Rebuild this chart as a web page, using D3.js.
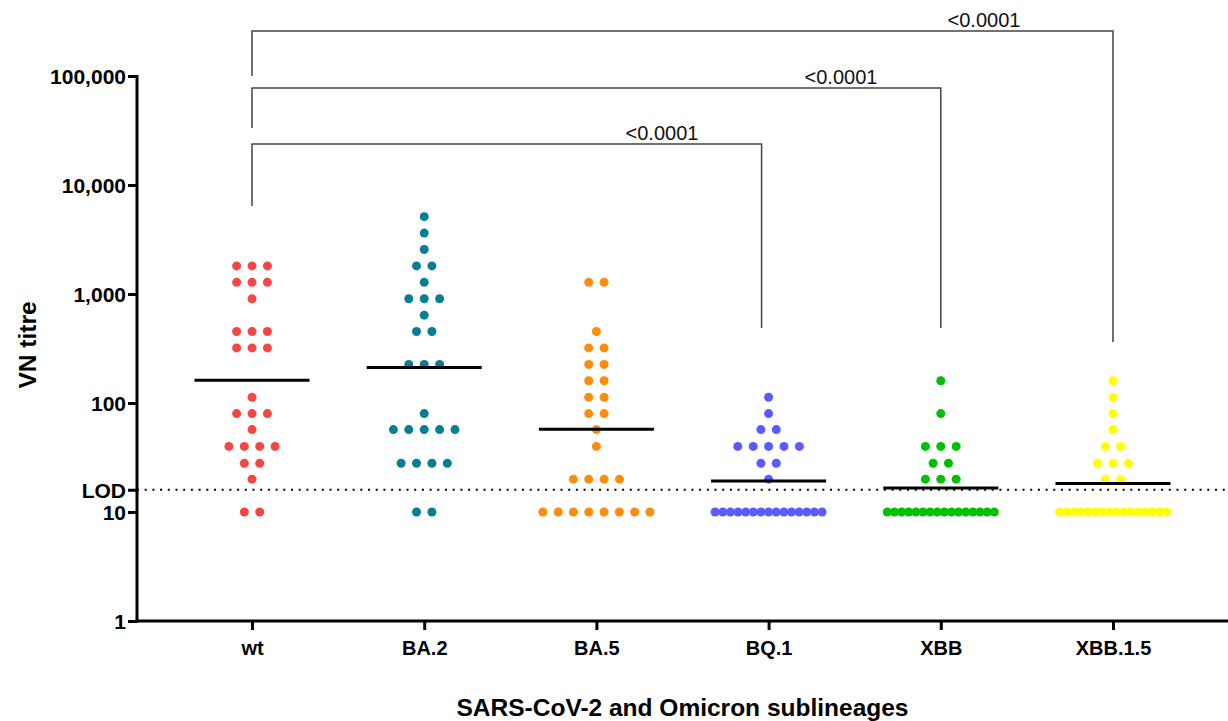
<!DOCTYPE html>
<html lang="en">
<head>
<meta charset="utf-8">
<title>VN titre by sublineage</title>
<script src="https://cdnjs.cloudflare.com/ajax/libs/d3/7.8.5/d3.min.js"></script>
<style>
  body { margin: 0; background: #fff; }
  svg { display: block; font-family: Arial, "Liberation Sans", sans-serif; }
  .tick-label { font-size: 20px; font-weight: bold; fill: #000; }
  .y-label { font-size: 21px; }
  .axis-title { font-size: 24.5px; font-weight: bold; fill: #000; }
  .pval { font-size: 20px; fill: #111; }
</style>
</head>
<body>
<svg id="chart" width="1228" height="721"></svg>
<script>
// categories and colours
var groups = ["wt", "BA.2", "BA.5", "BQ.1", "XBB", "XBB.1.5"];
var colors = ["#f54646", "#077e94", "#ff8c0a", "#5a5aff", "#00c100", "#ffff00"];

// individual VN titres
var wt = [1810, 1810, 1810, 1280, 1280, 1280, 905, 453, 453, 453, 320, 320, 320,
  113, 80, 80, 80, 57, 40, 40, 40, 40, 28, 28, 20, 10, 10];
var ba2 = [5120, 3620, 2560, 1810, 1810, 1280, 905, 905, 905, 640, 453, 453,
  226, 226, 226, 80, 57, 57, 57, 57, 57, 28, 28, 28, 28, 10, 10];
var ba5 = [1280, 1280, 453, 320, 320, 226, 226, 160, 160, 113, 113, 80, 80, 57, 40,
  20, 20, 20, 20, 10, 10, 10, 10, 10, 10, 10, 10];
var bq1 = [113, 80, 57, 57, 40, 40, 40, 40, 40, 28, 28, 20,
  10, 10, 10, 10, 10, 10, 10, 10, 10, 10, 10, 10, 10, 10, 10];
var xbb = [160, 80, 40, 40, 40, 28, 28, 20, 20, 20,
  10, 10, 10, 10, 10, 10, 10, 10, 10, 10, 10, 10, 10, 10, 10, 10];
var xbb15 = [160, 113, 80, 57, 40, 40, 28, 28, 28, 20, 20,
  10, 10, 10, 10, 10, 10, 10, 10, 10, 10, 10, 10, 10, 10, 10, 10];
var series = [wt, ba2, ba5, bq1, xbb, xbb15];

// y axis
var yTicks = [1, 10, 100, 1000, 10000, 100000];
var yTickLabels = ["1", "10", "100", "1,000", "10,000", "100,000"];
var lod = 16;

// comparisons drawn as brackets
var comparisons = [
  { from: "wt", to: "BQ.1", label: "<0.0001" },
  { from: "wt", to: "XBB", label: "<0.0001" },
  { from: "wt", to: "XBB.1.5", label: "<0.0001" }
];

var svg = d3.select("#chart");
var plotL = 137, plotR = 1228, plotT = 76, plotB = 621;

var y = d3.scaleLog().domain([1, 100000]).range([plotB, plotT]);
var x = d3.scalePoint().domain(groups).range([plotL, plotR]).padding(0.668);

// LOD dotted line
svg.append("line")
  .attr("x1", plotL).attr("x2", plotR)
  .attr("y1", y(lod)).attr("y2", y(lod))
  .attr("stroke", "#000").attr("stroke-width", 2)
  .attr("stroke-dasharray", "2,5.7");

// dots, laid out per row of equal value
var r = 4.5, step = 15.4, maxSpan = 107;
series.forEach(function (vals, gi) {
  var cx = x(groups[gi]);
  var rows = d3.group(vals, function (v) { return v; });
  rows.forEach(function (row, v) {
    var n = row.length;
    var s = n > 1 ? Math.min(step, maxSpan / (n - 1)) : 0;
    svg.selectAll(null)
      .data(row)
      .enter().append("circle")
      .attr("cx", function (d, i) { return cx + (i - (n - 1) / 2) * s; })
      .attr("cy", y(v))
      .attr("r", r)
      .attr("fill", colors[gi]);
  });
});

// geometric mean lines
series.forEach(function (vals, gi) {
  var gm = Math.exp(d3.mean(vals, function (v) { return Math.log(v); }));
  var cx = x(groups[gi]);
  svg.append("line")
    .attr("x1", cx - 57.5).attr("x2", cx + 57.5)
    .attr("y1", y(gm)).attr("y2", y(gm))
    .attr("stroke", "#000").attr("stroke-width", 3);
});

// y axis
var yAxis = svg.append("g").attr("transform", "translate(" + plotL + ",0)")
  .call(d3.axisLeft(y).tickValues(yTicks.concat([lod])).tickSize(9)
    .tickFormat(function (d) {
      var i = yTicks.indexOf(d);
      return i >= 0 ? yTickLabels[i] : "LOD";
    }));
yAxis.select(".domain").attr("stroke-width", 3).attr("d", "M0," + (plotT - 1) + "V" + (plotB + 1.5));
yAxis.selectAll(".tick line").attr("stroke-width", 3);
yAxis.selectAll(".tick text").attr("class", "tick-label y-label").attr("x", -11).attr("dy", "0.36em");

// x axis
var xAxis = svg.append("g").attr("transform", "translate(0," + plotB + ")")
  .call(d3.axisBottom(x).tickSize(9));
xAxis.select(".domain").attr("stroke-width", 3).attr("d", "M" + (plotL - 1.5) + ",0H" + plotR);
xAxis.selectAll(".tick line").attr("stroke-width", 3);
xAxis.selectAll(".tick text").attr("class", "tick-label").attr("y", 20).attr("dy", "0.72em");

// axis titles
svg.append("text").attr("class", "axis-title")
  .attr("transform", "translate(36,345) rotate(-90)")
  .attr("text-anchor", "middle").text("VN titre");
svg.append("text").attr("class", "axis-title")
  .attr("x", (plotL + plotR) / 2).attr("y", 716)
  .attr("text-anchor", "middle").text("SARS-CoV-2 and Omicron sublineages");

// brackets
var bTop = [144, 88, 31], bLeftEnd = [206, 128, 76], bRightEnd = [328, 328, 342];
var bDx = [-7, 0, 0], labelX = [662, 841, 984];
comparisons.forEach(function (c, i) {
  var x1 = x(c.from), x2 = x(c.to) + bDx[i];
  svg.append("path")
    .attr("d", "M" + x1 + "," + bLeftEnd[i] + "V" + bTop[i] + "H" + x2 + "V" + bRightEnd[i])
    .attr("fill", "none").attr("stroke", "#444").attr("stroke-width", 1.5);
  svg.append("text").attr("class", "pval")
    .attr("x", labelX[i]).attr("y", bTop[i] - 4)
    .attr("text-anchor", "middle").text(c.label);
});
</script>
</body>
</html>
